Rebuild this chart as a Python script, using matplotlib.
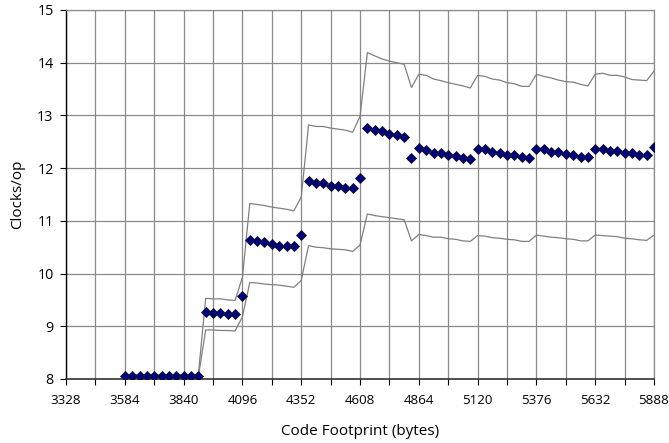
import numpy as np
import matplotlib
matplotlib.use('Agg')
import matplotlib.pyplot as plt

plt.rcParams['font.family'] = ['Open Sans', 'DejaVu Sans']

# ---------------------------------------------------------------------------
# Data
# ---------------------------------------------------------------------------
X_START, X_STEP = 3584, 32

clocks = [
    # 3584 .. 3904
    8.06, 8.06, 8.06, 8.06, 8.06, 8.06, 8.06, 8.06, 8.06, 8.06, 8.06,
    # 3936 .. 4096
    9.27, 9.25, 9.25, 9.23, 9.23, 9.58,
    # 4128 .. 4352
    10.64, 10.61, 10.60, 10.56, 10.53, 10.52, 10.52, 10.74,
    # 4384 .. 4608
    11.76, 11.71, 11.71, 11.67, 11.67, 11.63, 11.62, 11.82,
    # 4640 .. 4832
    12.77, 12.72, 12.70, 12.64, 12.63, 12.59, 12.19,
    # 4864 .. 5088
    12.38, 12.34, 12.29, 12.28, 12.24, 12.23, 12.20, 12.18,
    # 5120 .. 5344
    12.36, 12.36, 12.31, 12.29, 12.25, 12.24, 12.21, 12.20,
    # 5376 .. 5600
    12.36, 12.36, 12.31, 12.30, 12.26, 12.25, 12.22, 12.21,
    # 5632 .. 5888
    12.37, 12.37, 12.33, 12.33, 12.29, 12.28, 12.25, 12.24, 12.40,
]

upper = [
    8.08, 8.08, 8.08, 8.08, 8.08, 8.08, 8.08, 8.08, 8.08, 8.08, 8.08,
    9.53, 9.52, 9.52, 9.50, 9.49, 9.93,
    11.33, 11.31, 11.29, 11.26, 11.24, 11.22, 11.19, 11.45,
    12.82, 12.79, 12.79, 12.76, 12.74, 12.72, 12.68, 12.98,
    14.19, 14.13, 14.07, 14.03, 14.00, 13.97, 13.53,
    13.78, 13.76, 13.69, 13.66, 13.62, 13.59, 13.56, 13.52,
    13.76, 13.74, 13.69, 13.67, 13.62, 13.60, 13.55, 13.55,
    13.78, 13.74, 13.71, 13.67, 13.64, 13.63, 13.59, 13.56,
    13.78, 13.80, 13.76, 13.76, 13.73, 13.68, 13.67, 13.66, 13.84,
]

lower = [
    8.04, 8.04, 8.04, 8.04, 8.04, 8.04, 8.04, 8.04, 8.04, 8.04, 8.04,
    8.93, 8.93, 8.92, 8.92, 8.91, 9.18,
    9.83, 9.82, 9.80, 9.79, 9.78, 9.76, 9.74, 9.87,
    10.53, 10.50, 10.49, 10.47, 10.46, 10.45, 10.42, 10.54,
    11.13, 11.10, 11.08, 11.06, 11.04, 11.02, 10.62,
    10.74, 10.72, 10.69, 10.69, 10.66, 10.65, 10.62, 10.61,
    10.72, 10.71, 10.68, 10.67, 10.65, 10.64, 10.61, 10.61,
    10.73, 10.71, 10.69, 10.68, 10.66, 10.65, 10.62, 10.62,
    10.73, 10.72, 10.71, 10.70, 10.67, 10.66, 10.64, 10.63, 10.73,
]

footprint = X_START + X_STEP * np.arange(len(clocks))

x_labels = [3328, 3584, 3840, 4096, 4352, 4608, 4864, 5120, 5376, 5632, 5888]

# ---------------------------------------------------------------------------
# Plot
# ---------------------------------------------------------------------------
fig = plt.figure(figsize=(6.69, 4.43), dpi=100)
ax = fig.add_axes([0.0987, 0.1445, 0.8789, 0.833])

grid_c = '#8a8a8a'
ax.plot(footprint, upper, color='#808080', lw=0.9, zorder=3)
ax.plot(footprint, lower, color='#808080', lw=0.9, zorder=3)
ax.plot(footprint, clocks, ls='none', marker='D', ms=5.4,
        mfc='#000080', mec='#1a1a1a', mew=0.6, zorder=4)

ax.set_xlim(3328, 5888)
ax.set_ylim(8, 15)
xt = np.arange(3328, 5889, 128)
ax.set_xticks(xt)
ax.set_xticklabels([str(v) if v in x_labels else '' for v in xt])
ax.set_yticks(np.arange(8, 16, 1))

ax.grid(True, color=grid_c, lw=0.9, zorder=0)
ax.set_axisbelow(True)

for side in ('top', 'right'):
    ax.spines[side].set_color(grid_c)
    ax.spines[side].set_linewidth(0.9)
ax.spines['left'].set_color('black')
ax.spines['bottom'].set_color('#333333')
ax.spines['left'].set_linewidth(1.0)
ax.spines['bottom'].set_linewidth(1.2)

ax.tick_params(axis='both', direction='out', length=4, width=0.8,
               labelsize=9.6, colors='black')
ax.tick_params(axis='y', labelsize=10.3, pad=5)
ax.tick_params(axis='x', pad=7)

ax.set_xlabel('Code Footprint (bytes)', fontsize=11, labelpad=12)
ax.set_ylabel('Clocks/op', fontsize=11, labelpad=9)

fig.savefig('out.png', dpi=100)
